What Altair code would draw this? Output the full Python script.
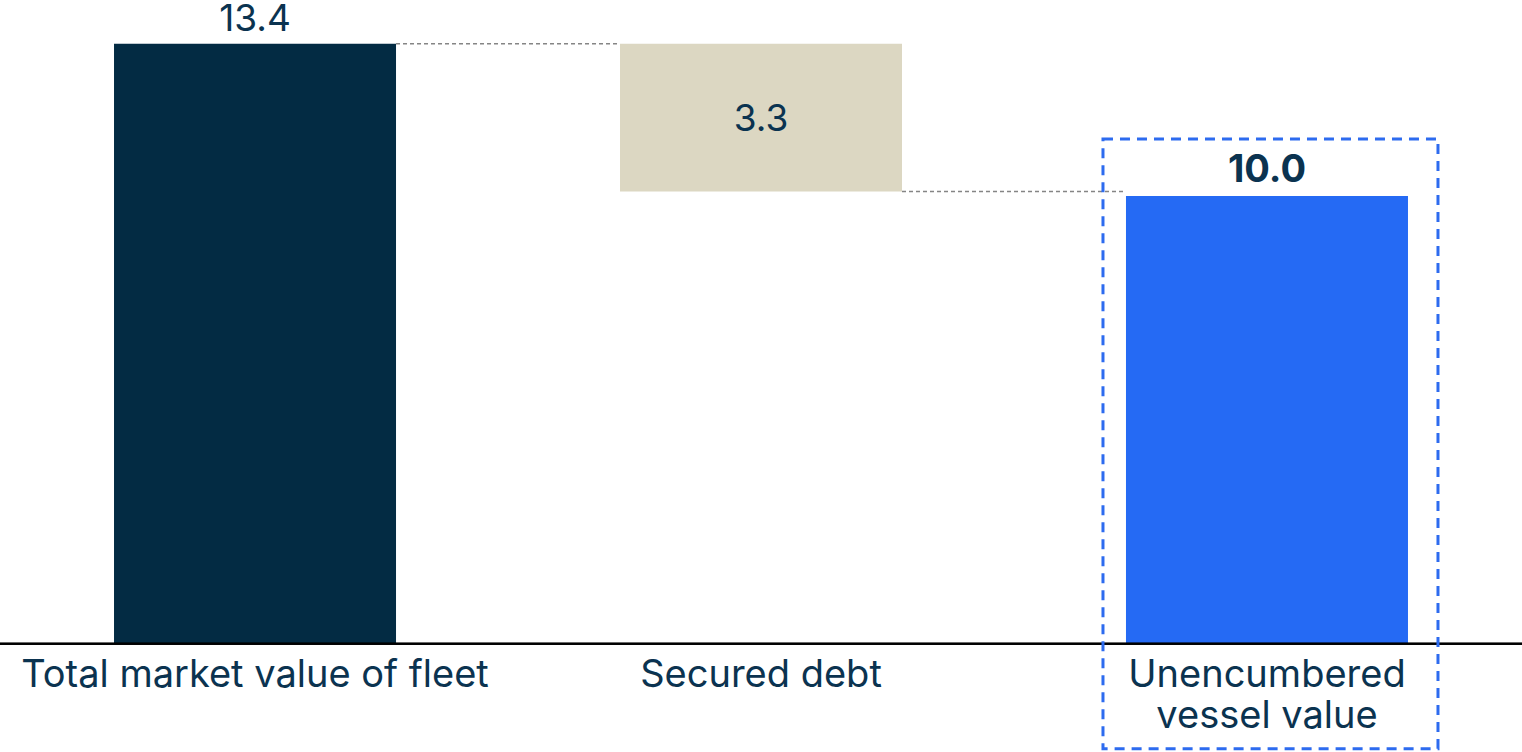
import altair as alt
import pandas as pd

# ---- data ----
categories = ["Total market value of fleet", "Secured debt", "Unencumbered\nvessel value"]
values = [13.4, 3.3, 10.0]
value_labels = ["13.4", "3.3", "10.0"]
bar_colors = ["#032B43", "#DCD7C2", "#256AF4"]

TEXT = "#0B3350"
FONT = "Inter"

# waterfall geometry derived from the values
total, debt, unenc = values
lows = [0.0, total - debt, 0.0]
highs = [total, total, unenc]
idx = list(range(len(categories)))

bars = pd.DataFrame({
    "idx": idx, "cat": categories, "low": lows, "high": highs,
    "color": bar_colors, "label": value_labels,
    "mid": [(l + h) / 2 for l, h in zip(lows, highs)],
})
connectors = pd.DataFrame({
    "idx": [0, 1], "idx2": [1, 2], "level": [total, total - debt],
})

xscale = alt.Scale(domain=[-0.504, 2.504], nice=False, zero=False, padding=0)
yscale = alt.Scale(domain=[-2.42, 14.38], nice=False, zero=False, padding=0)
X = alt.X("idx:Q", scale=xscale, axis=None)

base = alt.Chart(bars)

conn = alt.Chart(connectors).mark_rule(
    color="#858585", strokeDash=[4, 3], strokeWidth=1.5, xOffset=141, x2Offset=-141
).encode(
    x=alt.X("idx:Q", scale=xscale, axis=None),
    x2="idx2:Q",
    y=alt.Y("level:Q", scale=yscale, axis=None),
)

bar_layer = base.mark_bar(size=282).encode(
    x=X,
    y=alt.Y("high:Q", scale=yscale, axis=None),
    y2="low:Q",
    color=alt.Color("color:N", scale=None, legend=None),
)

baseline = alt.Chart(bars).mark_rule(color="#000000", strokeWidth=2).encode(
    y=alt.datum(0)
)

top_labels = base.transform_filter(alt.datum.idx == 0).mark_text(
    font=FONT, fontSize=37, color=TEXT, baseline="alphabetic", dy=-13
).encode(x=X, y=alt.Y("high:Q", scale=yscale), text="label:N")

mid_labels = base.transform_filter(alt.datum.idx == 1).mark_text(
    font=FONT, fontSize=37, color=TEXT, baseline="alphabetic", dy=13
).encode(x=X, y=alt.Y("mid:Q", scale=yscale), text="label:N")

bold_labels = base.transform_filter(alt.datum.idx == 2).mark_text(
    font=FONT, fontSize=38, fontWeight="bold", color=TEXT, baseline="alphabetic", dy=-14
).encode(x=X, y=alt.Y("high:Q", scale=yscale), text="label:N")

cat_labels = base.mark_text(
    font=FONT, fontSize=38, color=TEXT, baseline="alphabetic", dy=43,
    lineBreak="\n", lineHeight=41
).encode(x=X, y=alt.datum(0), text="cat:N")

box = base.transform_filter(alt.datum.idx == 2).mark_rect(
    filled=False, stroke="#2D6BEF", strokeWidth=3, strokeDash=[10, 7],
    xOffset=-164, x2Offset=171, yOffset=-57, y2Offset=105
).encode(
    x=X, x2="idx:Q",
    y=alt.Y("high:Q", scale=yscale), y2=alt.datum(0),
)

chart = alt.layer(
    conn, bar_layer, baseline, top_labels, mid_labels, bold_labels, cat_labels, box
).properties(
    width=1522, height=752, padding=0, autosize=alt.AutoSizeParams(type="none"),
    view=alt.ViewBackground(stroke="transparent", strokeWidth=0),
).configure_view(strokeWidth=0, stroke="transparent").configure(background="white")

chart.save("out.html", embed_options={"renderer": "svg", "actions": False})
